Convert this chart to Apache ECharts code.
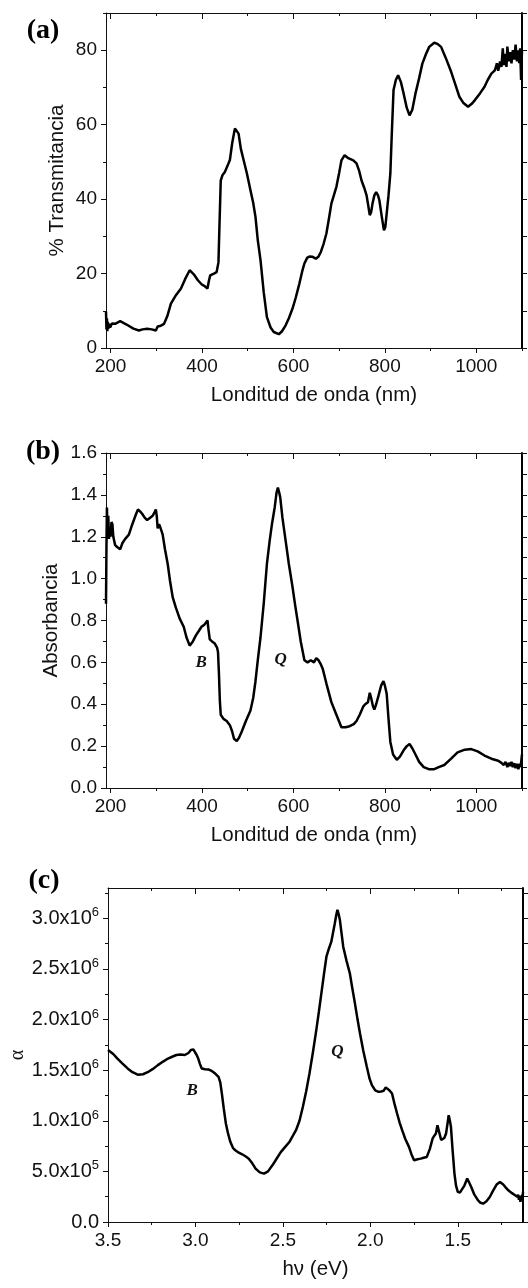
<!DOCTYPE html>
<html>
<head>
<meta charset="utf-8">
<script src="https://cdn.jsdelivr.net/npm/echarts/dist/echarts.min.js"></script>
<style>
  html, body { margin: 0; padding: 0; background: #fff; }
  #chart { width: 528px; height: 1288px; }
</style>
</head>
<body>
<div id="chart"></div>
<script>
// ---- (a) Transmittance spectrum ----
const wlA = [190,191,192,193,194,195,197,199,203,210,221,235,250,262,270,280,290,299,303,310,317,324,332,343,354,363,373,382,391,400,406,412,415,418,426,432,436,438,441,445,450,456,461,466,472,476,480,485,491,498,506,512,517,522,528,535,542,550,557,568,575,583,590,598,605,613,619,624,630,635,642,649,655,660,666,672,678,683,694,700,705,712,720,731,738,744,749,755,760,764,767,770,773,777,781,785,788,793,798,801,804,808,812,815,819,824,829,835,841,848,854,860,867,875,882,890,897,908,915,923,933,945,955,963,972,982,990,997,1008,1018,1025,1033,1040,1043,1045,1048,1052,1055,1058,1060,1063,1066,1068,1071,1074,1077,1080,1083,1086,1089,1092,1094,1096,1098,1100];
const transA = [9.8,5,8,4.5,7,5.2,6.5,5.5,6.6,6.5,7.2,6.3,5.2,4.7,5,5.2,5,4.7,5.8,6,6.5,8.5,11.9,14.2,16,18.5,20.9,19.8,18.2,17,16.6,16,18,19.5,20,20.4,23,32,45,46.5,47.3,49,50.5,55,59,59.2,57.6,53.5,50.5,47,42.4,39,35.2,29,23.6,15,8.3,5.5,4.3,3.7,4.5,6.1,8,10.6,13.5,17.3,20.5,22.7,24.2,24.6,24.5,24,24.6,25.8,28,30.7,35,38.8,43.3,47,50.4,51.8,51,50.4,49.6,47.5,45,43,41,38,35.7,36.5,38.8,41,41.9,41,39.7,35.5,31.6,32.5,36.1,41,46.9,57,69.3,72,73.3,71.5,68.4,64.5,62.5,64,68.4,72.5,76.4,79,80.9,82,81.7,80.9,78,74.2,70.5,67.5,65.8,64.8,65.6,66.6,68.4,70.2,72,73.7,74.5,75.5,76.5,74.5,77,75.5,80.5,76,79,75.5,81,77,79.5,76.5,80,77.5,81.5,77,80,76.5,80.5,72,80];

// ---- (b) Absorbance spectrum ----
const wlB = [190,191,192,193.5,195,196.5,198,200,202,204,206,210,215,221,226,232,240,246,251,256,260,265,269,275,280,286,292,297,299,301,303,306,308,311,314,319,325,330,336,343,351,360,366,373,380,387,393,399,405,409,412,414,417,422,428,433,435,437,439,441,447,454,461,466,470,476,481,487,496,506,512,517,522,528,535,542,548,553,559,563,566,569,571,576,583,590,598,604,609,616,624,631,638,645,650,655,660,664,672,683,694,705,714,723,732,738,745,753,757,760,763,767,770,774,777,781,786,792,797,800,804,808,812,818,826,833,841,848,854,860,867,875,885,896,908,918,930,945,959,975,989,1003,1018,1033,1048,1055,1060,1064,1068,1071,1074,1077,1080,1083,1086,1089,1092,1095,1097,1099,1100];
const absB = [0.88,1.15,1.34,1.22,1.3,1.19,1.24,1.2,1.27,1.26,1.2,1.16,1.15,1.14,1.17,1.19,1.21,1.25,1.28,1.31,1.33,1.32,1.31,1.29,1.28,1.29,1.3,1.32,1.33,1.3,1.24,1.26,1.25,1.23,1.21,1.14,1.07,0.99,0.91,0.86,0.81,0.77,0.72,0.68,0.7,0.73,0.75,0.77,0.78,0.78,0.8,0.76,0.71,0.7,0.69,0.67,0.65,0.55,0.42,0.35,0.33,0.32,0.3,0.27,0.235,0.225,0.24,0.27,0.32,0.37,0.43,0.51,0.61,0.72,0.88,1.07,1.18,1.26,1.34,1.41,1.435,1.41,1.39,1.29,1.18,1.07,0.96,0.87,0.8,0.7,0.61,0.6,0.61,0.6,0.62,0.61,0.59,0.57,0.5,0.41,0.35,0.29,0.29,0.295,0.305,0.32,0.35,0.39,0.4,0.4,0.41,0.455,0.43,0.39,0.375,0.4,0.44,0.49,0.51,0.49,0.45,0.33,0.22,0.16,0.135,0.15,0.18,0.2,0.21,0.19,0.16,0.125,0.1,0.09,0.09,0.1,0.11,0.14,0.17,0.183,0.186,0.175,0.155,0.14,0.13,0.12,0.11,0.125,0.1,0.12,0.105,0.125,0.1,0.118,0.095,0.115,0.09,0.115,0.1,0.14,0.16];
const bandsB = [['B', 398, 0.60], ['Q', 572, 0.614]];

// ---- (c) Absorption coefficient vs photon energy ----
const evC = [3.5,3.47,3.446,3.42,3.388,3.36,3.33,3.30,3.273,3.245,3.215,3.185,3.157,3.13,3.109,3.085,3.061,3.04,3.026,3.012,3.003,2.993,2.984,2.974,2.964,2.945,2.926,2.905,2.887,2.868,2.858,2.849,2.838,2.826,2.813,2.80,2.785,2.772,2.752,2.733,2.714,2.695,2.675,2.656,2.632,2.608,2.585,2.56,2.536,2.512,2.488,2.463,2.445,2.425,2.405,2.386,2.367,2.348,2.328,2.309,2.294,2.28,2.265,2.251,2.237,2.223,2.213,2.203,2.195,2.188,2.181,2.174,2.165,2.155,2.136,2.117,2.103,2.088,2.073,2.059,2.04,2.02,2.005,1.991,1.972,1.953,1.938,1.924,1.912,1.905,1.89,1.876,1.862,1.847,1.832,1.818,1.80,1.779,1.765,1.75,1.73,1.712,1.695,1.677,1.66,1.644,1.635,1.625,1.616,1.605,1.595,1.587,1.577,1.567,1.558,1.552,1.545,1.539,1.53,1.519,1.51,1.50,1.488,1.477,1.462,1.446,1.435,1.423,1.405,1.384,1.37,1.355,1.336,1.317,1.298,1.278,1.259,1.24,1.225,1.211,1.19,1.172,1.16,1.155,1.15,1.146,1.142,1.138,1.134,1.131,1.129,1.127];
const alphaC = [1.70,1.66,1.615,1.57,1.517,1.48,1.455,1.46,1.48,1.51,1.55,1.585,1.615,1.635,1.65,1.655,1.65,1.67,1.70,1.705,1.69,1.65,1.615,1.56,1.517,1.51,1.507,1.49,1.467,1.434,1.38,1.27,1.12,0.973,0.87,0.79,0.73,0.709,0.685,0.669,0.65,0.626,0.58,0.528,0.49,0.478,0.5,0.56,0.625,0.69,0.74,0.79,0.845,0.907,1.0,1.137,1.29,1.467,1.68,1.896,2.08,2.259,2.45,2.621,2.7,2.77,2.86,2.951,3.03,3.085,3.04,2.984,2.86,2.72,2.58,2.456,2.31,2.16,2.0,1.863,1.69,1.533,1.42,1.352,1.3,1.286,1.29,1.296,1.33,1.325,1.3,1.27,1.17,1.072,0.98,0.907,0.82,0.742,0.67,0.61,0.62,0.626,0.635,0.643,0.72,0.824,0.85,0.874,0.956,0.88,0.81,0.808,0.83,0.874,0.98,1.055,1.0,0.94,0.72,0.478,0.36,0.297,0.29,0.297,0.36,0.429,0.39,0.346,0.27,0.214,0.19,0.181,0.205,0.247,0.31,0.37,0.396,0.37,0.34,0.313,0.285,0.264,0.25,0.27,0.22,0.26,0.2,0.25,0.21,0.27,0.22,0.3]; // units of 1e6
const bandsC = [['B', 3.018, 1.30e6], ['Q', 2.188, 1.68e6]];

// ---- axis ticks ----
const nmMajor = [200, 400, 600, 800, 1000];
const nmMinor = [300, 500, 700, 900, 1100];
const tMajor = [0, 20, 40, 60, 80];
const tMinor = [10, 30, 50, 70, 90];
const aMajor = [0, 0.2, 0.4, 0.6, 0.8, 1.0, 1.2, 1.4, 1.6];
const aMinor = [0.1, 0.3, 0.5, 0.7, 0.9, 1.1, 1.3, 1.5];
const evMajor = [3.5, 3.0, 2.5, 2.0, 1.5];
const evMinor = [3.25, 2.75, 2.25, 1.75, 1.25];
const cMajor = [0, 0.5e6, 1.0e6, 1.5e6, 2.0e6, 2.5e6, 3.0e6];
const cMinor = [0.25e6, 0.75e6, 1.25e6, 1.75e6, 2.25e6, 2.75e6, 3.25e6];

const SANS = '"Liberation Sans", Arial, sans-serif';
const SERIF = '"Liberation Serif", "Times New Roman", serif';
const INK = '#111';
const TICK_FONT = 19;
const TITLE_FONT = 20.5;

// fixed plot boxes; labels are allowed to sit outside them
const grids = [
  { left: 106, top: 13, width: 416, height: 335, outerBoundsMode: 'none', containLabel: false },
  { left: 106, top: 453, width: 416, height: 335, outerBoundsMode: 'none', containLabel: false },
  { left: 108, top: 888, width: 415, height: 334, outerBoundsMode: 'none', containLabel: false }
];

const xAxes = [], yAxes = [];

function hidden(gi, o) {
  return {
    gridIndex: gi, type: 'value', min: o.min, max: o.max, inverse: !!o.inverse,
    splitLine: { show: false }, axisLabel: { show: false },
    axisLine: { show: false, onZero: false }, axisTick: { show: false }
  };
}

// bottom axis with labels + title, bottom minor ticks, top frame with inward ticks
function addX(gi, o) {
  const main = xAxes.length;
  xAxes.push(Object.assign(hidden(gi, o), {
    position: 'bottom',
    axisLine: { show: true, onZero: false, lineStyle: { color: INK, width: 1 } },
    axisTick: { show: true, length: 5, customValues: o.major, lineStyle: { color: INK } },
    axisLabel: { show: true, customValues: o.major, formatter: o.fmt, margin: 9,
      fontSize: TICK_FONT, color: INK, fontFamily: SANS },
    name: o.name, nameLocation: 'middle', nameGap: o.nameGap, nameMoveOverlap: false,
    nameTextStyle: { fontSize: TITLE_FONT, color: INK, fontFamily: SANS }
  }));
  xAxes.push(Object.assign(hidden(gi, o), {
    position: 'bottom',
    axisTick: { show: true, length: 3, customValues: o.minor, lineStyle: { color: INK } }
  }));
  xAxes.push(Object.assign(hidden(gi, o), {
    position: 'top',
    axisLine: { show: true, onZero: false, lineStyle: { color: INK, width: 1 } },
    axisTick: { show: true, inside: true, length: 6, customValues: o.major, lineStyle: { color: INK } }
  }));
  xAxes.push(Object.assign(hidden(gi, o), {
    position: 'top',
    axisTick: { show: true, inside: true, length: 3, customValues: o.minor, lineStyle: { color: INK } }
  }));
  return main;
}

// left axis with labels + title, left minor ticks, right frame with outward ticks
function addY(gi, o) {
  const main = yAxes.length;
  yAxes.push(Object.assign(hidden(gi, o), {
    position: 'left',
    axisLine: { show: true, onZero: false, lineStyle: { color: INK, width: 1 } },
    axisTick: { show: true, length: 5, customValues: o.major, lineStyle: { color: INK } },
    axisLabel: Object.assign({ show: true, customValues: o.major, formatter: o.fmt, margin: 9,
      fontSize: TICK_FONT, color: INK, fontFamily: SANS }, o.labelExtra || {}),
    name: o.name, nameLocation: 'middle', nameGap: o.nameGap, nameMoveOverlap: false,
    nameTextStyle: Object.assign({ fontSize: TITLE_FONT, color: INK, fontFamily: SANS }, o.nameStyle || {})
  }));
  yAxes.push(Object.assign(hidden(gi, o), {
    position: 'left',
    axisTick: { show: true, length: 3, customValues: o.minor, lineStyle: { color: INK } }
  }));
  yAxes.push(Object.assign(hidden(gi, o), {
    position: 'right',
    axisLine: { show: true, onZero: false, lineStyle: { color: '#000', width: 2 } },
    axisTick: { show: true, length: 5, customValues: o.major.concat(o.minor), lineStyle: { color: INK } }
  }));
  return main;
}

function pairs(xs, ys, k) {
  return xs.map((x, i) => [x, ys[i] * (k || 1)]);
}

function bandMarks(list) {
  return {
    symbol: 'circle', symbolSize: 0, silent: true, animation: false,
    label: { show: true, position: 'inside', formatter: p => p.name, color: INK,
      fontFamily: SERIF, fontStyle: 'italic', fontWeight: 'bold', fontSize: 17 },
    data: list.map(b => ({ name: b[0], coord: [b[1], b[2]] }))
  };
}

function supLabel(v) {
  if (v === 0) return '{m|0.0}';
  const e = Math.floor(Math.log10(v) + 1e-9);
  const m = (v / Math.pow(10, e)).toFixed(1);
  return '{m|' + m + 'x10}{e|' + e + '}';
}

// panel (a)
const xa = addX(0, { min: 190, max: 1100, major: nmMajor, minor: nmMinor,
  fmt: v => String(v), name: 'Londitud de onda (nm)', nameGap: 37 });
const ya = addY(0, { min: 0, max: 90, major: tMajor, minor: tMinor,
  fmt: v => String(v), name: '% Transmitancia', nameGap: 38 });
// panel (b)
const xb = addX(1, { min: 190, max: 1100, major: nmMajor, minor: nmMinor,
  fmt: v => String(v), name: 'Londitud de onda (nm)', nameGap: 37 });
const yb = addY(1, { min: 0, max: 1.6, major: aMajor, minor: aMinor,
  fmt: v => v.toFixed(1), name: 'Absorbancia', nameGap: 44 });
// panel (c)
const xc = addX(2, { min: 1.127, max: 3.5, inverse: true, major: evMajor, minor: evMinor,
  fmt: v => v.toFixed(1), name: 'h\u03bd (eV)', nameGap: 37 });
const yc = addY(2, { min: 0, max: 3.3e6, major: cMajor, minor: cMinor,
  fmt: supLabel, name: '\u03b1', nameGap: 80,
  nameStyle: { fontFamily: SERIF, fontSize: 20 },
  labelExtra: { rich: {
    m: { fontSize: 20, fontFamily: SANS, color: INK, lineHeight: 24 },
    e: { fontSize: 13, fontFamily: SANS, color: INK, verticalAlign: 'top', lineHeight: 13 }
  } } });

const lineStyle = { color: '#000', width: 2.5 };
const series = [
  { type: 'line', xAxisIndex: xa, yAxisIndex: ya, data: pairs(wlA, transA),
    showSymbol: false, lineStyle, silent: true },
  { type: 'line', xAxisIndex: xb, yAxisIndex: yb, data: pairs(wlB, absB),
    showSymbol: false, lineStyle, silent: true, markPoint: bandMarks(bandsB) },
  { type: 'line', xAxisIndex: xc, yAxisIndex: yc, data: pairs(evC, alphaC, 1e6),
    showSymbol: false, lineStyle, silent: true, markPoint: bandMarks(bandsC) }
];

const panelTag = (t, x, y) => ({
  type: 'text', x, y,
  style: { text: t, font: 'bold 28px ' + SERIF, fill: '#000', textAlign: 'center', textVerticalAlign: 'middle' }
});

const chart = echarts.init(document.getElementById('chart'), null, { renderer: 'canvas' });
chart.setOption({
  animation: false,
  backgroundColor: '#fff',
  grid: grids,
  xAxis: xAxes,
  yAxis: yAxes,
  series,
  graphic: [panelTag('(a)', 43, 31), panelTag('(b)', 43, 452), panelTag('(c)', 44, 881)]
});
</script>
</body>
</html>
